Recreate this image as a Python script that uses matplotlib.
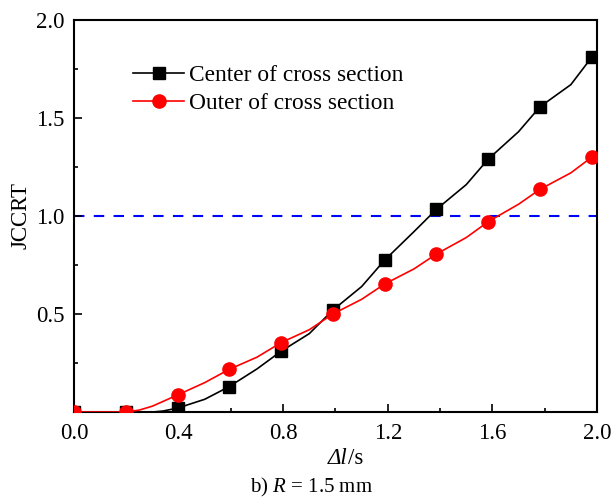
import matplotlib
matplotlib.use("Agg")
import matplotlib.pyplot as plt
from matplotlib.ticker import MultipleLocator

plt.rcParams['font.family'] = ['Liberation Serif', 'DejaVu Serif']
plt.rcParams['mathtext.fontset'] = 'custom'
plt.rcParams['mathtext.rm'] = 'Liberation Serif'
plt.rcParams['mathtext.it'] = 'Liberation Serif:italic'

# marker positions (time, s)
t_marks = [0.0, 0.198, 0.396, 0.594, 0.792, 0.99, 1.188, 1.386, 1.584, 1.782, 1.98]
center_marks = [0.0, 0.0, 0.02, 0.13, 0.31, 0.52, 0.775, 1.034, 1.29, 1.557, 1.81]
outer_marks = [0.0, 0.0, 0.087, 0.218, 0.354, 0.50, 0.653, 0.806, 0.971, 1.136, 1.30]

# line traces (between markers)
t_center = [0.0, 0.198, 0.30, 0.34, 0.396, 0.50, 0.594, 0.70, 0.792, 0.90, 0.99,
            1.10, 1.188, 1.30, 1.386, 1.50, 1.584, 1.70, 1.782, 1.90, 1.98]
center_line = [0.0, 0.0, 0.0, 0.005, 0.02, 0.065, 0.13, 0.22, 0.31, 0.40, 0.52,
               0.64, 0.775, 0.92, 1.034, 1.16, 1.29, 1.43, 1.557, 1.67, 1.81]
t_outer = [0.0, 0.198, 0.25, 0.30, 0.396, 0.50, 0.594, 0.70, 0.792, 0.90, 0.99,
           1.10, 1.188, 1.30, 1.386, 1.50, 1.584, 1.70, 1.782, 1.90, 1.98]
outer_line = [0.0, 0.0, 0.01, 0.03, 0.087, 0.15, 0.218, 0.28, 0.354, 0.42, 0.50,
              0.575, 0.653, 0.73, 0.806, 0.89, 0.971, 1.06, 1.136, 1.22, 1.30]

critical = 1.0

fig = plt.figure(figsize=(6.14, 4.99), dpi=100)
ax = fig.add_axes([0.1205, 0.1743, 0.8518, 0.7857])

ax.axhline(critical, color='#0000ff', lw=1.5, ls=(0, (5, 4.5)), zorder=1)

ax.plot(t_center, center_line, color='black', lw=1.2, zorder=2)
ax.plot(t_marks, center_marks, ls='none', marker='s', ms=8.5, color='black', zorder=3)
ax.plot(t_outer, outer_line, color='#ff0000', lw=1.2, zorder=4)
ax.plot(t_marks, outer_marks, ls='none', marker='o', ms=9.5, color='#ff0000', zorder=5)

# legend handles
h1, = ax.plot([], [], color='black', lw=1.2, marker='s', ms=8.5)
h2, = ax.plot([], [], color='#ff0000', lw=1.2, marker='o', ms=9.5)
ax.legend([h1, h2], ['Center of cross section', 'Outer of cross section'],
          loc='upper left', bbox_to_anchor=(0.113, 0.886), frameon=False,
          fontsize=16.8, handlelength=2.2, handletextpad=0.2, labelspacing=0.3,
          borderaxespad=0, borderpad=0)

ax.set_xlim(0, 2.0)
ax.set_ylim(0, 2.0)
ax.xaxis.set_minor_locator(MultipleLocator(0.2))
ax.yaxis.set_minor_locator(MultipleLocator(0.25))
ax.set_yticks([0.5, 1.0, 1.5, 2.0])
ax.set_xticks([0.0, 0.4, 0.8, 1.2, 1.6, 2.0])
ax.set_xticklabels(['0.0', '0.4', '0.8', '1.2', '1.6', '2.0'])
ax.set_yticklabels(['0.5', '1.0', '1.5', '2.0'])
ax.tick_params(which='both', direction='in', labelsize=16.5, width=1.2)
ax.tick_params(which='major', length=6)
ax.tick_params(which='minor', length=3)
ax.tick_params(axis='x', pad=8)
ax.tick_params(axis='y', pad=7)
for s in ax.spines.values():
    s.set_linewidth(1.5)

# x label: italic "Δl" followed by upright "/s"
ax.text(0.523, -0.118, 'Δl', transform=ax.transAxes, ha='right', va='center',
        fontsize=16.5, style='italic')
ax.text(0.523, -0.118, '/s', transform=ax.transAxes, ha='left', va='center',
        fontsize=16.5)
ax.set_ylabel('JCCRT', fontsize=16.5, labelpad=3)
fig.text(0.507, 0.024, r'b) $\it{R}$ = 1.5 mm', ha='center', va='center', fontsize=15)

fig.savefig('out.png', dpi=100)
